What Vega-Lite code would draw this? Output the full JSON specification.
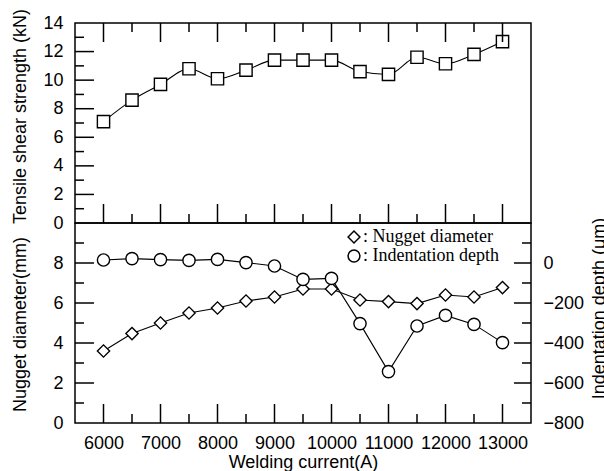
{
  "$schema": "https://vega.github.io/schema/vega-lite/v6.json",
  "padding": {"top": 7, "left": 10, "right": 0, "bottom": 0},
  "background": "white",
  "datasets": {
    "tensile": [
      {"current": 6000, "value": 7.1},
      {"current": 6500, "value": 8.6},
      {"current": 7000, "value": 9.7},
      {"current": 7500, "value": 10.8},
      {"current": 8000, "value": 10.1},
      {"current": 8500, "value": 10.7},
      {"current": 9000, "value": 11.4},
      {"current": 9500, "value": 11.4},
      {"current": 10000, "value": 11.4},
      {"current": 10500, "value": 10.6},
      {"current": 11000, "value": 10.4},
      {"current": 11500, "value": 11.6},
      {"current": 12000, "value": 11.15},
      {"current": 12500, "value": 11.8},
      {"current": 13000, "value": 12.7}
    ],
    "nugget": [
      {"current": 6000, "value": 3.6, "series": "Nugget diameter"},
      {"current": 6500, "value": 4.47, "series": "Nugget diameter"},
      {"current": 7000, "value": 5.0, "series": "Nugget diameter"},
      {"current": 7500, "value": 5.5, "series": "Nugget diameter"},
      {"current": 8000, "value": 5.75, "series": "Nugget diameter"},
      {"current": 8500, "value": 6.1, "series": "Nugget diameter"},
      {"current": 9000, "value": 6.3, "series": "Nugget diameter"},
      {"current": 9500, "value": 6.7, "series": "Nugget diameter"},
      {"current": 10000, "value": 6.7, "series": "Nugget diameter"},
      {"current": 10500, "value": 6.15, "series": "Nugget diameter"},
      {"current": 11000, "value": 6.07, "series": "Nugget diameter"},
      {"current": 11500, "value": 5.97, "series": "Nugget diameter"},
      {"current": 12000, "value": 6.4, "series": "Nugget diameter"},
      {"current": 12500, "value": 6.3, "series": "Nugget diameter"},
      {"current": 13000, "value": 6.77, "series": "Nugget diameter"}
    ],
    "indent": [
      {"current": 6000, "value": 15, "series": "Indentation depth"},
      {"current": 6500, "value": 22, "series": "Indentation depth"},
      {"current": 7000, "value": 17, "series": "Indentation depth"},
      {"current": 7500, "value": 13, "series": "Indentation depth"},
      {"current": 8000, "value": 18, "series": "Indentation depth"},
      {"current": 8500, "value": 2, "series": "Indentation depth"},
      {"current": 9000, "value": -15, "series": "Indentation depth"},
      {"current": 9500, "value": -82, "series": "Indentation depth"},
      {"current": 10000, "value": -77, "series": "Indentation depth"},
      {"current": 10500, "value": -303, "series": "Indentation depth"},
      {"current": 11000, "value": -543, "series": "Indentation depth"},
      {"current": 11500, "value": -315, "series": "Indentation depth"},
      {"current": 12000, "value": -262, "series": "Indentation depth"},
      {"current": 12500, "value": -307, "series": "Indentation depth"},
      {"current": 13000, "value": -398, "series": "Indentation depth"}
    ],
    "xmaj": [{"v": 6000}, {"v": 7000}, {"v": 8000}, {"v": 9000}, {"v": 10000}, {"v": 11000}, {"v": 12000}, {"v": 13000}],
    "xmin": [{"v": 6500}, {"v": 7500}, {"v": 8500}, {"v": 9500}, {"v": 10500}, {"v": 11500}, {"v": 12500}],
    "ymaj_t": [{"v": 2}, {"v": 4}, {"v": 6}, {"v": 8}, {"v": 10}, {"v": 12}],
    "ymin_t": [{"v": 1}, {"v": 3}, {"v": 5}, {"v": 7}, {"v": 9}, {"v": 11}, {"v": 13}],
    "ymaj_n": [{"v": 2}, {"v": 4}, {"v": 6}, {"v": 8}],
    "ymin_n": [{"v": 1}, {"v": 3}, {"v": 5}, {"v": 7}, {"v": 9}],
    "ymaj_i": [{"v": -600}, {"v": -400}, {"v": -200}, {"v": 0}],
    "ymin_i": [{"v": -700}, {"v": -500}, {"v": -300}, {"v": -100}, {"v": 100}]
  },
  "spacing": 0,
  "bounds": "flush",
  "resolve": {"scale": {"shape": "independent"}, "legend": {"shape": "independent"}},
  "vconcat": [
    {
      "width": 456,
      "height": 200,
      "resolve": {"axis": {"x": "independent", "y": "independent"}},
      "layer": [
        {
          "data": {"name": "tensile"},
          "mark": {"type": "line", "interpolate": "monotone", "color": "black", "strokeWidth": 1.1},
          "encoding": {
            "x": {"field": "current", "type": "quantitative", "scale": {"domain": [5500, 13500], "nice": false}, "axis": null},
            "y": {"field": "value", "type": "quantitative", "scale": {"domain": [0, 14], "nice": false},
              "axis": {"orient": "left", "values": [0, 2, 4, 6, 8, 10, 12, 14], "ticks": false, "labelPadding": 12, "domain": false,
                "title": "Tensile shear strength (kN)", "titleX": -55, "titleY": 93, "titleAngle": 270, "titleAlign": "center", "titleBaseline": "middle"}}
          }
        },
        {
          "data": {"name": "tensile"},
          "mark": {"type": "point", "shape": "square", "size": 150, "filled": true, "fill": "white", "stroke": "black", "strokeWidth": 1.4, "opacity": 1},
          "encoding": {
            "x": {"field": "current", "type": "quantitative", "scale": {"domain": [5500, 13500], "nice": false}, "axis": null},
            "y": {"field": "value", "type": "quantitative", "scale": {"domain": [0, 14], "nice": false}, "axis": null}
          }
        },
        {
          "data": {"name": "xmaj"},
          "mark": {"type": "rule", "color": "black", "strokeWidth": 1.5},
          "encoding": {
            "x": {"field": "v", "type": "quantitative", "axis": null},
            "y": {"datum": 0, "type": "quantitative", "axis": null},
            "y2": {"datum": 1.33}
          }
        },
        {
          "data": {"name": "xmin"},
          "mark": {"type": "rule", "color": "black", "strokeWidth": 1.5},
          "encoding": {
            "x": {"field": "v", "type": "quantitative", "axis": null},
            "y": {"datum": 0, "type": "quantitative", "axis": null},
            "y2": {"datum": 0.63}
          }
        },
        {
          "data": {"name": "xmaj"},
          "mark": {"type": "rule", "color": "black", "strokeWidth": 1.5},
          "encoding": {
            "x": {"field": "v", "type": "quantitative", "axis": null},
            "y": {"datum": 14, "type": "quantitative", "axis": null},
            "y2": {"datum": 12.67}
          }
        },
        {
          "data": {"name": "xmin"},
          "mark": {"type": "rule", "color": "black", "strokeWidth": 1.5},
          "encoding": {
            "x": {"field": "v", "type": "quantitative", "axis": null},
            "y": {"datum": 14, "type": "quantitative", "axis": null},
            "y2": {"datum": 13.37}
          }
        },
        {
          "data": {"name": "ymaj_t"},
          "mark": {"type": "rule", "color": "black", "strokeWidth": 1.5},
          "encoding": {
            "y": {"field": "v", "type": "quantitative", "axis": null},
            "x": {"datum": 5500, "type": "quantitative", "axis": null},
            "x2": {"datum": 5833}
          }
        },
        {
          "data": {"name": "ymin_t"},
          "mark": {"type": "rule", "color": "black", "strokeWidth": 1.5},
          "encoding": {
            "y": {"field": "v", "type": "quantitative", "axis": null},
            "x": {"datum": 5500, "type": "quantitative", "axis": null},
            "x2": {"datum": 5658}
          }
        }
      ]
    },
    {
      "width": 456,
      "height": 200,
      "resolve": {"scale": {"y": "independent"}, "axis": {"x": "independent", "y": "independent"}},
      "layer": [
        {
          "data": {"name": "nugget"},
          "mark": {"type": "line", "color": "black", "strokeWidth": 1.1},
          "encoding": {
            "x": {"field": "current", "type": "quantitative", "scale": {"domain": [5500, 13500], "nice": false},
              "axis": {"orient": "bottom", "values": [6000, 7000, 8000, 9000, 10000, 11000, 12000, 13000], "format": "d", "ticks": false, "labelPadding": 11, "domain": false,
                "title": "Welding current(A)", "titlePadding": 1}},
            "y": {"field": "value", "type": "quantitative", "scale": {"domain": [0, 10], "nice": false},
              "axis": {"orient": "left", "values": [0, 2, 4, 6, 8], "ticks": false, "labelPadding": 12, "domain": false,
                "title": "Nugget diameter(mm)", "titleX": -55, "titleY": 101, "titleAngle": 270, "titleAlign": "center", "titleBaseline": "middle"}}
          }
        },
        {
          "data": {"name": "nugget"},
          "mark": {"type": "point", "size": 150, "filled": true, "fill": "white", "stroke": "black", "strokeWidth": 1.4, "opacity": 1},
          "encoding": {
            "x": {"field": "current", "type": "quantitative", "axis": null},
            "y": {"field": "value", "type": "quantitative", "scale": {"domain": [0, 10], "nice": false}, "axis": null},
            "shape": {"field": "series", "type": "nominal",
              "scale": {"domain": ["Nugget diameter", "Indentation depth"], "range": ["diamond", "circle"]},
              "legend": {"orient": "none", "legendX": 270, "legendY": 5, "title": null, "labelExpr": "': ' + datum.label",
                "labelFont": "Liberation Serif", "labelFontSize": 18, "labelColor": "black", "labelOffset": 0,
                "symbolSize": 140, "rowPadding": 1,
                "encode": {"symbols": {"update": {"fill": {"value": "white"}, "stroke": {"value": "black"}, "strokeWidth": {"value": 1.3}, "opacity": {"value": 1}}}}}}
          }
        },
        {
          "data": {"name": "indent"},
          "mark": {"type": "line", "color": "black", "strokeWidth": 1.1},
          "encoding": {
            "x": {"field": "current", "type": "quantitative", "axis": null},
            "y": {"field": "value", "type": "quantitative", "scale": {"domain": [-800, 200], "nice": false},
              "axis": {"orient": "right", "values": [-800, -600, -400, -200, 0], "ticks": false, "labelPadding": 12, "domain": false,
                "title": "Indentation depth (μm)", "titleX": 68, "titleY": 85, "titleAngle": 270, "titleAlign": "center", "titleBaseline": "middle"}}
          }
        },
        {
          "data": {"name": "indent"},
          "mark": {"type": "point", "size": 150, "filled": true, "fill": "white", "stroke": "black", "strokeWidth": 1.4, "opacity": 1},
          "encoding": {
            "x": {"field": "current", "type": "quantitative", "axis": null},
            "y": {"field": "value", "type": "quantitative", "scale": {"domain": [-800, 200], "nice": false}, "axis": null},
            "shape": {"field": "series", "type": "nominal",
              "scale": {"domain": ["Nugget diameter", "Indentation depth"], "range": ["diamond", "circle"]}}
          }
        },
        {
          "data": {"name": "xmaj"},
          "mark": {"type": "rule", "color": "black", "strokeWidth": 1.5},
          "encoding": {
            "x": {"field": "v", "type": "quantitative", "axis": null},
            "y": {"datum": 0, "type": "quantitative", "scale": {"domain": [0, 10], "nice": false}, "axis": null},
            "y2": {"datum": 0.95}
          }
        },
        {
          "data": {"name": "xmin"},
          "mark": {"type": "rule", "color": "black", "strokeWidth": 1.5},
          "encoding": {
            "x": {"field": "v", "type": "quantitative", "axis": null},
            "y": {"datum": 0, "type": "quantitative", "scale": {"domain": [0, 10], "nice": false}, "axis": null},
            "y2": {"datum": 0.45}
          }
        },
        {
          "data": {"name": "ymaj_n"},
          "mark": {"type": "rule", "color": "black", "strokeWidth": 1.5},
          "encoding": {
            "y": {"field": "v", "type": "quantitative", "scale": {"domain": [0, 10], "nice": false}, "axis": null},
            "x": {"datum": 5500, "type": "quantitative", "axis": null},
            "x2": {"datum": 5833}
          }
        },
        {
          "data": {"name": "ymin_n"},
          "mark": {"type": "rule", "color": "black", "strokeWidth": 1.5},
          "encoding": {
            "y": {"field": "v", "type": "quantitative", "scale": {"domain": [0, 10], "nice": false}, "axis": null},
            "x": {"datum": 5500, "type": "quantitative", "axis": null},
            "x2": {"datum": 5658}
          }
        },
        {
          "data": {"name": "ymaj_i"},
          "mark": {"type": "rule", "color": "black", "strokeWidth": 1.5},
          "encoding": {
            "y": {"field": "v", "type": "quantitative", "scale": {"domain": [-800, 200], "nice": false}, "axis": null},
            "x": {"datum": 13500, "type": "quantitative", "axis": null},
            "x2": {"datum": 13202}
          }
        },
        {
          "data": {"name": "ymin_i"},
          "mark": {"type": "rule", "color": "black", "strokeWidth": 1.5},
          "encoding": {
            "y": {"field": "v", "type": "quantitative", "scale": {"domain": [-800, 200], "nice": false}, "axis": null},
            "x": {"datum": 13500, "type": "quantitative", "axis": null},
            "x2": {"datum": 13342}
          }
        }
      ]
    }
  ],
  "config": {
    "view": {"stroke": "black", "strokeWidth": 1.5},
    "axis": {
      "grid": false,
      "labelFont": "Liberation Sans", "labelFontSize": 18, "labelColor": "black",
      "titleFont": "Liberation Sans", "titleFontSize": 18, "titleFontWeight": "normal", "titleColor": "black"
    }
  }
}
